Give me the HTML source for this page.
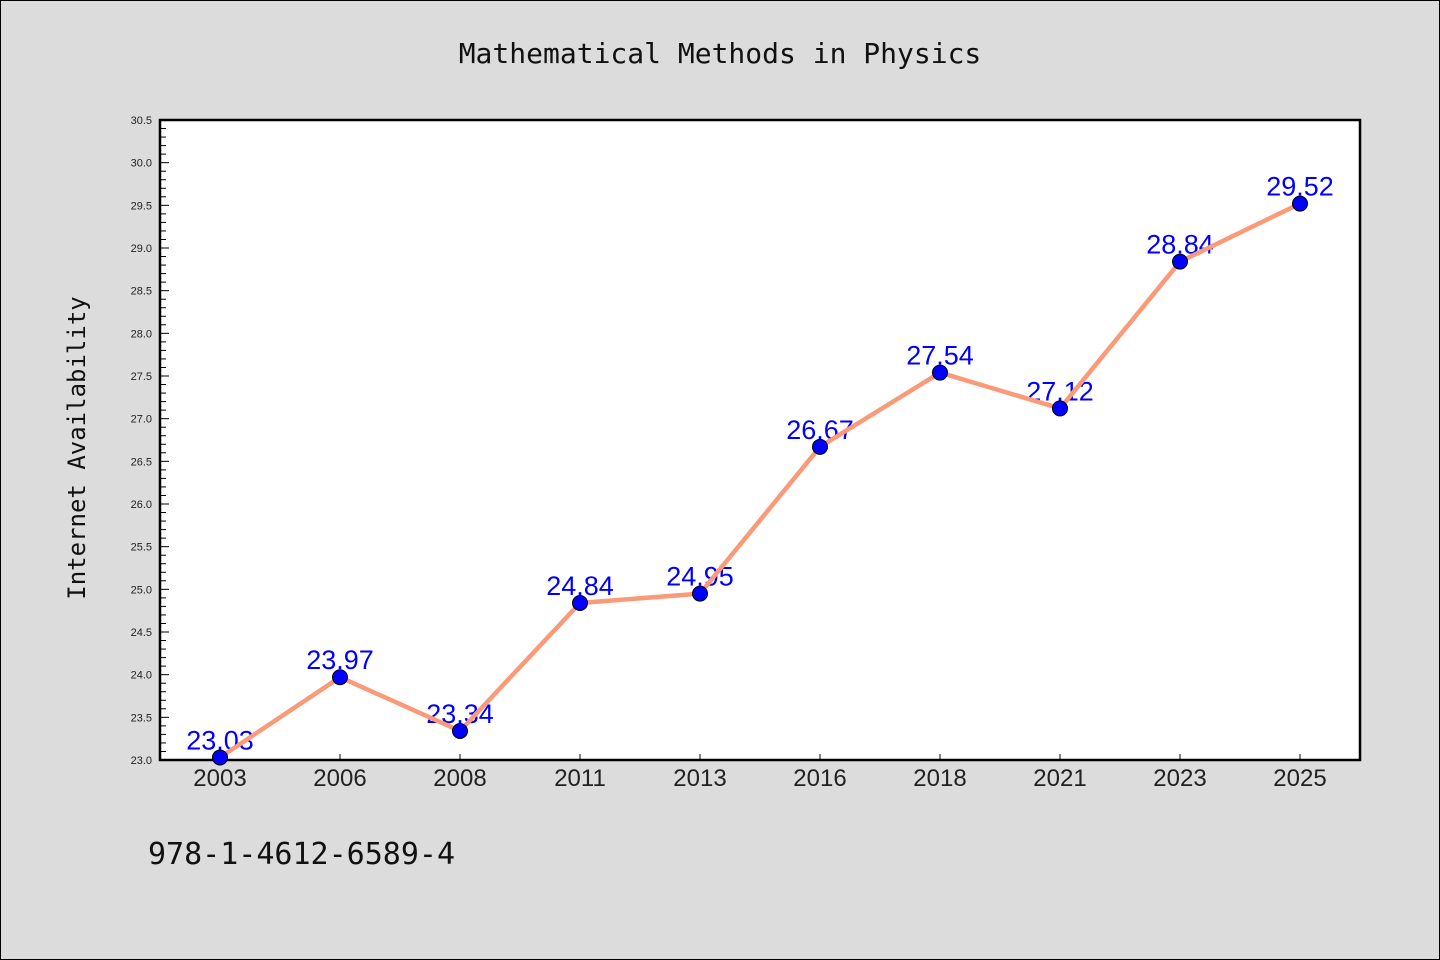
<!DOCTYPE html>
<html><head><meta charset="utf-8"><style>
html,body{margin:0;padding:0;background:#dcdcdc;}
svg{display:block;font-family:"Liberation Sans","DejaVu Sans",sans-serif;}
</style></head><body>
<svg id="chart" width="1440" height="960" xmlns="http://www.w3.org/2000/svg">
<rect x="0.5" y="0.5" width="1439" height="959" fill="#dcdcdc" stroke="#000" stroke-width="1"/>
<text x="720" y="63" text-anchor="middle" font-size="28" font-family="DejaVu Sans Mono, Liberation Mono, monospace" fill="#111">Mathematical Methods in Physics</text>
<rect x="160" y="120" width="1201" height="640" fill="#fff"/>
<g id="grid"></g>
<text transform="translate(85,448) rotate(-90)" text-anchor="middle" font-size="24" font-family="DejaVu Sans Mono, Liberation Mono, monospace" fill="#111">Internet Availability</text>
<text x="148" y="864" font-size="30" font-family="DejaVu Sans Mono, Liberation Mono, monospace" fill="#111">978-1-4612-6589-4</text>
</svg>
<script>
const categories = ["2003","2006","2008","2011","2013","2016","2018","2021","2023","2025"];
const values = [23.03,23.97,23.34,24.84,24.95,26.67,27.54,27.12,28.84,29.52];
const valueLabels = ["23.03","23.97","23.34","24.84","24.95","26.67","27.54","27.12","28.84","29.52"];
const yTicks = ["23.0","23.5","24.0","24.5","25.0","25.5","26.0","26.5","27.0","27.5","28.0","28.5","29.0","29.5","30.0","30.5"];

const NS = "http://www.w3.org/2000/svg";
const svg = document.getElementById('chart');
const L = 160, R = 1360, T = 120, B = 760, yMin = 23.0, yMax = 30.5;
const x = i => L + (R - L) / categories.length * (i + 0.5);
const y = v => B - (v - yMin) / (yMax - yMin) * (B - T);
function mk(tag, attrs) { const e = document.createElementNS(NS, tag); for (const k in attrs) e.setAttribute(k, attrs[k]); svg.appendChild(e); return e; }

// minor ticks
for (let v = 230; v <= 305; v++) {
  const yy = y(v / 10);
  const major = v % 5 === 0;
  const t = mk('line', {x1: L, x2: L + (major ? 9 : 6), y1: yy, y2: yy, stroke: '#000', 'stroke-width': 1});
  
  
}
yTicks.forEach(s => {
  const t = mk('text', {x: 152, y: y(parseFloat(s)) + 4, 'text-anchor': 'end', 'font-size': 11, fill: '#222'});
  t.textContent = s;
  
  
});
categories.forEach((c, i) => {
  const tk = mk('line', {x1: x(i), x2: x(i), y1: B, y2: B - 6, stroke: '#000', 'stroke-width': 1});
  
  
  const t = mk('text', {x: x(i), y: 786, 'text-anchor': 'middle', 'font-size': 24, fill: '#222'});
  t.textContent = c;
  
  
});
// frame
const fr = mk('rect', {x: L, y: T, width: R - L, height: B - T, fill: 'none', stroke: '#000', 'stroke-width': 2.5});


// labels (behind)
values.forEach((v, i) => {
  const t = mk('text', {x: x(i), y: y(v) - 8, 'text-anchor': 'middle', 'font-size': 27, fill: '#0000ff'});
  t.textContent = valueLabels[i];
  
  
});
// line
const ln = mk('polyline', {points: values.map((v, i) => x(i) + ',' + y(v)).join(' '), fill: 'none', stroke: '#fa9a78', 'stroke-width': 4.5, 'stroke-linejoin': 'round'});


values.forEach((v, i) => {
  const c = mk('circle', {cx: x(i), cy: y(v), r: 7.5, fill: '#0000ff', stroke: '#000', 'stroke-width': 1});
  
  
});
</script>
</body></html>
